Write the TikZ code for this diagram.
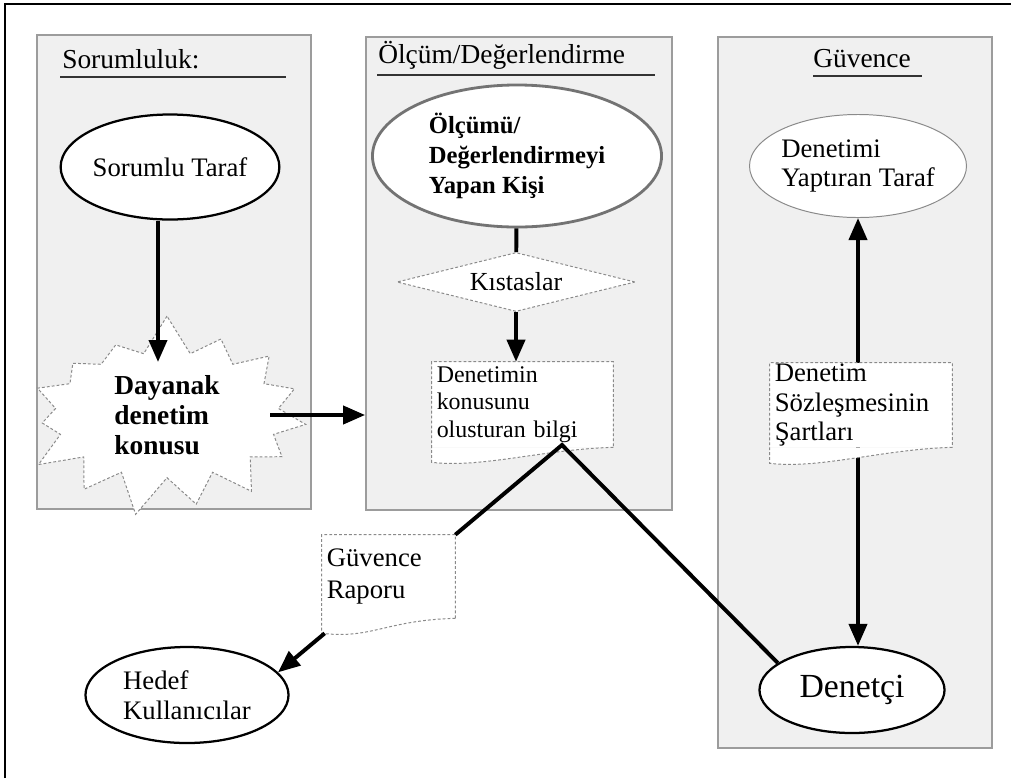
\documentclass[tikz,border=0pt]{standalone}
\usepackage{fontspec}
\setmainfont{Liberation Serif}
\usetikzlibrary{positioning,calc,arrows.meta,shapes.geometric,shapes.symbols}
\definecolor{panelgri}{HTML}{F0F0F0}
\definecolor{kenargri}{HTML}{9C9C9C}
\definecolor{kesikgri}{HTML}{8A8A8A}
\tikzset{
  panel/.style={draw=kenargri,line width=1.2pt,fill=panelgri,rectangle,inner sep=0pt},
  baslik/.style={anchor=base west,inner sep=0pt,font=\fontsize{19.5}{23}\selectfont},
  cizgi/.style={line width=1.6pt,draw=black!80},
  kisi/.style={draw,ellipse,line width=1.6pt,fill=white,inner sep=0pt,align=left,
    font=\fontsize{19}{21.3}\selectfont},
  belge/.style={rectangle,fill=white,inner xsep=0.12cm,inner ysep=0pt,align=left,
    font=\fontsize{19}{21.3}\selectfont},
  kesik/.style={draw=kesikgri,dash pattern=on 2pt off 1.5pt,line width=0.7pt},
  kalin/.style={line width=2.8pt},
  ok/.style={kalin,-{Triangle[length=0.55cm,width=0.45cm]}},
  okiki/.style={kalin,{Triangle[length=0.55cm,width=0.45cm]}-{Triangle[length=0.55cm,width=0.45cm]}},
}
% belge altindaki dalga ve kesik kenar
\newcommand{\belgekenar}[2]{%
  \fill[white] (#1.south east) .. controls +(-70,2) and +(50,6) .. ($(#1.south west)+(0,#2)$) -- (#1.south west) -- cycle;
  \draw[kesik] (#1.south east) .. controls +(-70,2) and +(50,6) .. ($(#1.south west)+(0,#2)$)
    -- (#1.north west) -- (#1.north east) -- cycle;}

\begin{document}
\begin{tikzpicture}[x=0.025cm,y=-0.025cm]
\useasboundingbox (0,0) rectangle (1011,778);
\draw[line width=1pt] (5,778) -- (5,4) -- (1011,4);

% paneller
\node[panel,minimum width=6.85cm,minimum height=11.85cm] (psorum) at (174,272) {};
\node[panel,minimum width=7.65cm,minimum height=11.825cm] (polcum) at (519,273.5) {};
\node[panel,minimum width=6.85cm,minimum height=17.775cm] (pguven) at (855,392.5) {};

\node[baslik] (tsorum) at (62,68) {Sorumluluk:};
\node[baslik] (tolcum) at (378,63) {Ölçüm/Değerlendirme};
\node[baslik] (tguven) at (813,67) {Güvence};
\draw[cizgi] (60,77) -- (286,77);
\draw[cizgi] (377,75) -- (655,75);
\draw[cizgi] (813,76) -- (922,76);

% kisiler
\node[kisi,minimum width=5.1cm,minimum height=2.625cm] (sorumlu) at (170,167) {Sorumlu Taraf};
\node[kisi,draw=black!55,line width=2pt,minimum width=7.225cm,minimum height=3.55cm,
  font=\fontsize{17.5}{21.3}\selectfont\bfseries] (olcen) at (517,156) {Ölçümü/\\Değerlendirmeyi\\Yapan Kişi};
\node[kisi,draw=kesikgri,line width=0.7pt,minimum width=5.025cm,minimum height=2.575cm] (yaptiran) at (858,166) {Denetimi\\Yaptıran Taraf};
\node[kisi,minimum width=5.075cm,minimum height=2.4cm] (hedef) at (187,695) {Hedef\\Kullanıcılar};
\node[kisi,minimum width=4.625cm,minimum height=2.15cm,font=\fontsize{24}{26}\selectfont] (denetci) at (852,690) {Denetçi};

\node[starburst,starburst points=15,starburst point height=1cm,random starburst=7,
  kesik,fill=white,minimum width=7.6cm,minimum height=4.1cm,align=left,
  font=\fontsize{19.5}{21.3}\selectfont\bfseries] (dayanak) at (167,415) {Dayanak\\denetim\\konusu};
\node[diamond,aspect=4,kesik,fill=white,inner sep=0pt,minimum width=5.95cm,minimum height=1.475cm,
  font=\fontsize{18.5}{21}\selectfont] (kistas) at (516,282) {Kıstaslar};

% oklar
\coordinate (dayanakuc) at (158,362);
\coordinate (dayanaksag) at (270,415);
\draw[ok] (sorumlu.south -| dayanakuc) -- (dayanakuc);
\draw[ok] (dayanaksag) -- (dayanaksag -| polcum.west);
\draw[kalin] (olcen) -- (kistas);
\draw[okiki] (yaptiran.south) -- (yaptiran.south |- denetci.north);

% belgeler
\node[belge,text width=4.285cm,minimum height=2.125cm,font=\fontsize{17}{19.5}\selectfont] (bilgi) at (522.5,404.5) {Denetimin\\konusunu\\olusturan bilgi};
\belgekenar{bilgi}{15}
\node[belge,text width=3.085cm,minimum height=2.075cm,font=\fontsize{19}{22.8}\selectfont] (rapor) at (388.5,576.5) {Güvence\\Raporu};
\belgekenar{rapor}{15}
\node[belge,text width=4.31cm,minimum height=2.1cm] (sartlar) at (861,405) {Denetim\\Sözleşmesinin\\Şartları};
\belgekenar{sartlar}{16}

\draw[ok] (kistas.south) -- (kistas.south |- bilgi.north);
\coordinate (bilgiuc) at (562,445);
\draw[kalin] (rapor.north east) -- (bilgiuc) -- (denetci.160);
\draw[ok] ($(rapor.south west)+(3,15)$) -- (hedef.14);
\end{tikzpicture}
\end{document}
